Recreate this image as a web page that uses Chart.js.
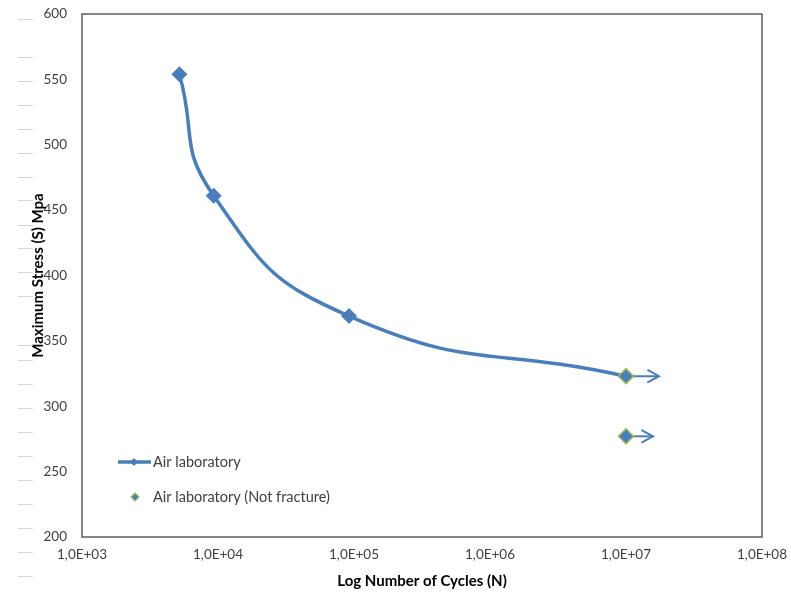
<!DOCTYPE html>
<html>
<head>
<meta charset="utf-8">
<script src="https://cdn.jsdelivr.net/npm/chart.js@4/dist/chart.umd.min.js"></script>
<style>
html, body { margin: 0; padding: 0; background: #fff; }
#wrap { width: 791px; height: 598px; }
</style>
</head>
<body>
<div id="wrap"><canvas id="c"></canvas></div>
<script>
// S-N curve data
const cycles = [5200, 9300, 92000, 1e7];
const stress = [554, 461, 369, 323];
const runoutCycles = [1e7, 1e7];
const runoutStress = [323, 277];
const arrowEnds = [1.75e7, 1.58e7];
const xTicks = [1e3, 1e4, 1e5, 1e6, 1e7, 1e8];
const yTicks = [200, 250, 300, 350, 400, 450, 500, 550, 600];

const blue = '#4A7EBB';
const green = '#9BBB59';
const font = 'Lato, "Noto Sans", sans-serif';

const fmtExp = v => '1,0E+' + String(Math.round(Math.log10(v))).padStart(2, '0');

// frame around plot area
const framePlugin = {
    id: 'frame',
    afterDraw(chart) {
        const a = chart.chartArea, c = chart.ctx;
        c.save();
        c.strokeStyle = '#666';
        c.lineWidth = 1.6;
        c.strokeRect(a.left, a.top, a.right - a.left, a.bottom - a.top);
        // faint marks on far left
        c.strokeStyle = '#d6d6d6';
        c.lineWidth = 1;
        [19, 57, 81, 105, 129, 153, 177, 200, 225, 248, 272, 296, 345, 360, 384, 408, 432, 456, 480, 504, 528, 552, 576].forEach(y => {
            c.beginPath(); c.moveTo(18, y + 0.5); c.lineTo(33, y + 0.5); c.stroke();
        });
        c.restore();
    }
};

// arrowheads at the end of run-out arrows
const arrowPlugin = {
    id: 'arrows',
    afterDatasetsDraw(chart) {
        const c = chart.ctx;
        chart.data.datasets.forEach((ds, i) => {
            if (!ds.isArrow) return;
            const pts = chart.getDatasetMeta(i).data;
            const p = pts[pts.length - 1];
            c.save();
            c.strokeStyle = blue;
            c.lineWidth = 2;
            c.lineCap = 'round';
            c.beginPath();
            c.moveTo(p.x - 11, p.y - 6);
            c.lineTo(p.x, p.y);
            c.lineTo(p.x - 11, p.y + 6);
            c.stroke();
            c.restore();
        });
    }
};

// legend placed inside plot area
const legendPlugin = {
    id: 'innerLegend',
    afterDraw(chart) {
        const c = chart.ctx;
        const ds = chart.data.datasets;
        c.save();
        c.font = '14.5px ' + font;
        c.textBaseline = 'middle';
        // line entry
        c.strokeStyle = blue; c.lineWidth = 3.5;
        c.beginPath(); c.moveTo(118, 462); c.lineTo(151, 462); c.stroke();
        c.fillStyle = blue;
        c.beginPath(); c.moveTo(134, 458); c.lineTo(138, 462); c.lineTo(134, 466); c.lineTo(130, 462); c.closePath(); c.fill();
        c.fillStyle = '#404040';
        c.fillText(ds[0].label, 153, 462);
        // marker entry
        c.fillStyle = blue; c.strokeStyle = green; c.lineWidth = 1.2;
        c.beginPath(); c.moveTo(135, 493); c.lineTo(139, 497); c.lineTo(135, 501); c.lineTo(131, 497); c.closePath(); c.fill(); c.stroke();
        c.fillStyle = '#404040';
        c.fillText(ds[1].label, 153, 497);
        c.restore();
    }
};

new Chart(document.getElementById('c'), {
    type: 'scatter',
    data: {
        datasets: [
            {
                label: 'Air laboratory',
                data: cycles.map((x, i) => ({ x, y: stress[i] })),
                showLine: true,
                tension: 0.5,
                borderColor: blue,
                borderWidth: 3.5,
                backgroundColor: blue,
                pointStyle: 'rectRot',
                pointRadius: 8,
                pointBorderWidth: 0,
                order: 2
            },
            {
                label: 'Air laboratory (Not fracture)',
                data: runoutCycles.map((x, i) => ({ x, y: runoutStress[i] })),
                backgroundColor: blue,
                borderColor: green,
                borderWidth: 1.5,
                pointStyle: 'rectRot',
                pointRadius: 7.5,
                order: 1
            },
            ...runoutCycles.map((x, i) => ({
                label: 'arrow',
                isArrow: true,
                data: [{ x, y: runoutStress[i] }, { x: arrowEnds[i], y: runoutStress[i] }],
                showLine: true,
                borderColor: blue,
                borderWidth: 2,
                pointRadius: 0,
                order: 3
            }))
        ]
    },
    options: {
        responsive: true,
        maintainAspectRatio: false,
        animation: false,
        layout: { padding: { top: 14, right: 29, left: 0, bottom: 0 } },
        plugins: {
            legend: { display: false },
            tooltip: { enabled: false }
        },
        scales: {
            x: {
                type: 'logarithmic',
                min: 1e3,
                max: 1e8,
                afterBuildTicks: s => { s.ticks = xTicks.map(v => ({ value: v })); },
                afterFit: s => { s.height = 61; s.paddingLeft = 0; s.paddingRight = 0; },
                grid: { display: false, drawTicks: false },
                border: { display: false },
                ticks: {
                    autoSkip: false, maxRotation: 0, padding: 10,
                    color: '#404040', font: { family: font, size: 13.5 },
                    callback: v => fmtExp(v)
                },
                title: {
                    display: true, text: 'Log Number of Cycles (N)',
                    color: '#000', font: { family: font, size: 15, weight: 'bold' },
                    padding: { top: 0, bottom: 8 }
                }
            },
            y: {
                min: 200,
                max: 600,
                afterBuildTicks: s => { s.ticks = yTicks.map(v => ({ value: v })); },
                afterFit: s => { s.width = 82; s.paddingTop = 0; s.paddingBottom = 0; },
                grid: { display: false, drawTicks: false },
                border: { display: false },
                ticks: {
                    padding: 15,
                    color: '#404040', font: { family: font, size: 13.5 }
                },
                title: {
                    display: true, text: 'Maximum Stress (S) Mpa',
                    color: '#000', font: { family: font, size: 15, weight: 'bold' },
                    padding: { top: 29, bottom: 0 }
                }
            }
        }
    },
    plugins: [framePlugin, arrowPlugin, legendPlugin]
});
</script>
</body>
</html>
